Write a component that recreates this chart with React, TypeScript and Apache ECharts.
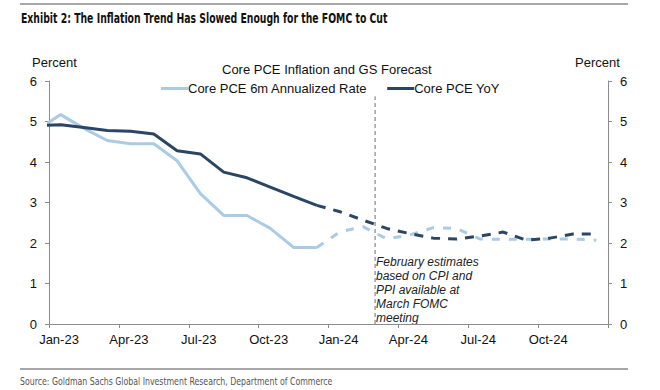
import React, { useEffect, useRef } from 'react';
import * as echarts from 'echarts';

// Monthly observations, Dec-22 .. Dec-24 (Dec-22 sits left of the axis start and is clipped)
const months = [
  'Dec-22', 'Jan-23', 'Feb-23', 'Mar-23', 'Apr-23', 'May-23', 'Jun-23', 'Jul-23', 'Aug-23', 'Sep-23', 'Oct-23', 'Nov-23', 'Dec-23',
  'Jan-24', 'Feb-24', 'Mar-24', 'Apr-24', 'May-24', 'Jun-24', 'Jul-24', 'Aug-24', 'Sep-24', 'Oct-24', 'Nov-24', 'Dec-24',
];
// actual: Dec-22 .. Dec-23
const sixMonthActual = [4.79, 5.17, 4.83, 4.53, 4.45, 4.45, 4.03, 3.22, 2.68, 2.68, 2.36, 1.89, 1.89];
const yoyActual = [4.9, 4.92, 4.85, 4.78, 4.76, 4.69, 4.28, 4.2, 3.75, 3.61, 3.38, 3.15, 2.93];
// forecast: Dec-23 .. Dec-24
const sixMonthForecast = [1.89, 2.28, 2.4, 2.1, 2.2, 2.38, 2.36, 2.1, 2.09, 2.09, 2.1, 2.1, 2.07];
const yoyForecast = [2.93, 2.77, 2.56, 2.36, 2.23, 2.12, 2.1, 2.17, 2.27, 2.07, 2.12, 2.22, 2.22];

const tickLabels = ['Jan-23', 'Apr-23', 'Jul-23', 'Oct-23', 'Jan-24', 'Apr-24', 'Jul-24', 'Oct-24', ''];
const forecastStartIndex = months.indexOf('Dec-23');
const markerMonth = 14; // start of Mar-24 (March FOMC)
const markerTop = 5.62;

const LIGHT = '#a9cbe4';
const DARK = '#2b4564';
const FONT = 'Arial, "Liberation Sans", sans-serif';
const NARROW = '"Liberation Sans Narrow", "Arial Narrow", "DejaVu Sans Condensed", sans-serif';

// x position: mid-month, months since Jan-23 start
const xOf = (i: number) => i - 0.5;

export default function App() {
  const ref = useRef<HTMLDivElement>(null);
  useEffect(() => {
    if (!ref.current) return;
    const chart = echarts.init(ref.current, undefined, { renderer: 'svg' });
    const actual = (vals: number[]) => vals.map((v, i) => [xOf(i), v]);
    const forecast = (vals: number[]) => vals.map((v, i) => [xOf(i + forecastStartIndex), v]);
    const yAxisBase = {
      type: 'value',
      min: 0,
      max: 6,
      interval: 1,
      axisLine: { show: true, lineStyle: { color: '#8c8c8c', width: 1 } },
      axisTick: { show: true, length: 4, lineStyle: { color: '#8c8c8c' } },
      splitLine: { show: false },
      axisLabel: { color: '#111', fontSize: 13, fontFamily: FONT, margin: 12 },
    };
    chart.setOption({
      animation: false,
      backgroundColor: '#ffffff',
      textStyle: { fontFamily: FONT },
      title: {
        text: 'Core PCE Inflation and GS Forecast',
        left: 217,
        top: 58,
        textStyle: { fontSize: 13, fontWeight: 'normal', color: '#111', fontFamily: FONT },
      },
      legend: {
        top: 77,
        left: 156,
        data: ['Core PCE 6m Annualized Rate', 'Core PCE YoY'],
        icon: 'rect',
        itemWidth: 27,
        itemHeight: 3,
        itemGap: 20,
        textStyle: { fontSize: 13, color: '#111', fontFamily: FONT, padding: [0, 0, 0, -5] },
      },
      grid: { left: 49, right: 52, top: 81, bottom: 66, containLabel: false },
      xAxis: {
        type: 'value',
        min: 0,
        max: 24,
        interval: 3,
        axisLine: { show: true, onZero: false, lineStyle: { color: '#8c8c8c', width: 1 } },
        axisTick: { show: true, length: 4, lineStyle: { color: '#8c8c8c' } },
        splitLine: { show: false },
        axisLabel: {
          color: '#111',
          fontSize: 13,
          fontFamily: FONT,
          margin: 9,
          padding: [0, 0, 0, 20],
          showMaxLabel: true,
          formatter: (v: number) => tickLabels[Math.round(v / 3)] ?? '',
        },
      },
      yAxis: [
        { ...yAxisBase, position: 'left' },
        { ...yAxisBase, position: 'right' },
      ],
      series: [
        {
          name: 'Core PCE 6m Annualized Rate',
          type: 'line',
          data: actual(sixMonthActual),
          showSymbol: false,
          clip: true,
          lineStyle: { color: LIGHT, width: 3 },
          itemStyle: { color: LIGHT },
          z: 2,
        },
        {
          name: 'Core PCE YoY',
          type: 'line',
          data: actual(yoyActual),
          showSymbol: false,
          clip: true,
          lineStyle: { color: DARK, width: 3 },
          itemStyle: { color: DARK },
          z: 3,
        },
        {
          name: 'Core PCE 6m Annualized Rate',
          type: 'line',
          data: forecast(sixMonthForecast),
          showSymbol: false,
          lineStyle: { color: LIGHT, width: 3, type: [8, 9] },
          itemStyle: { color: LIGHT },
          z: 2,
        },
        {
          name: 'Core PCE YoY',
          type: 'line',
          data: forecast(yoyForecast),
          showSymbol: false,
          lineStyle: { color: DARK, width: 3, type: [9, 8] },
          itemStyle: { color: DARK },
          z: 3,
        },
        {
          name: 'March FOMC marker',
          type: 'line',
          data: [[markerMonth, 0], [markerMonth, markerTop]],
          showSymbol: false,
          lineStyle: { color: '#6f6f6f', width: 1, type: [4, 3] },
          z: 1,
          silent: true,
        },
      ],
      graphic: [
        { type: 'line', shape: { x1: 20, y1: 4, x2: 628, y2: 4 }, style: { stroke: '#a8a8a8', lineWidth: 2 } },
        {
          type: 'text', x: 21, y: 18, scaleX: 0.74,
          style: {
            text: 'Exhibit 2: The Inflation Trend Has Slowed Enough for the FOMC to Cut',
            font: `bold 14px ${NARROW}`, fill: '#111', textVerticalAlign: 'middle',
          },
        },
        { type: 'text', x: 32, y: 62, style: { text: 'Percent', font: `13px ${FONT}`, fill: '#111', textVerticalAlign: 'middle' } },
        { type: 'text', x: 575, y: 62, style: { text: 'Percent', font: `13px ${FONT}`, fill: '#111', textVerticalAlign: 'middle' } },
        {
          type: 'text', x: 376, y: 255,
          style: {
            text: 'February estimates\nbased on CPI and\nPPI available at\nMarch FOMC\nmeeting',
            font: `italic 12px ${FONT}`, fill: '#222', lineHeight: 14,
          },
        },
        { type: 'line', shape: { x1: 20, y1: 369, x2: 628, y2: 369 }, style: { stroke: '#a8a8a8', lineWidth: 2 } },
        {
          type: 'text', x: 20, y: 381, scaleX: 0.79,
          style: {
            text: 'Source: Goldman Sachs Global Investment Research, Department of Commerce',
            font: `11px ${NARROW}`, fill: '#555', textVerticalAlign: 'middle',
          },
        },
      ],
    });
    return () => chart.dispose();
  }, []);
  return <div ref={ref} style={{ position: 'fixed', left: 0, top: 0, width: 660, height: 390, background: '#fff' }} />;
}
